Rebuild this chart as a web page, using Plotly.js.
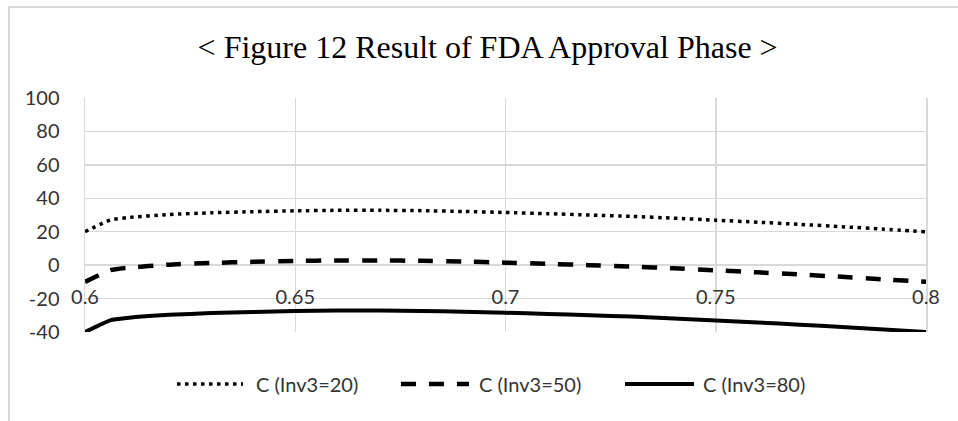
<!DOCTYPE html>
<html>
<head>
<meta charset="utf-8">
<script src="https://cdn.plot.ly/plotly-3.0.1.min.js"></script>
<style>
html,body{margin:0;padding:0;background:#fff;}
#chart{width:958px;height:421px;}
</style>
</head>
<body>
<div id="chart"></div>
<script>
// ---- data ----
var xValues = [0.6, 0.606, 0.61, 0.62, 0.63, 0.64, 0.65, 0.66, 0.67, 0.68, 0.69, 0.70, 0.71, 0.72, 0.73, 0.74, 0.75, 0.76, 0.77, 0.78, 0.79, 0.80];
var inv20 = [20, 27.0, 28.4, 30.3, 31.3, 32.0, 32.5, 32.8, 32.8, 32.6, 32.1, 31.5, 30.8, 30.0, 29.2, 28.1, 26.9, 25.7, 24.4, 23.0, 21.5, 20];
var inv50 = [-10, -3.0, -1.6, 0.3, 1.3, 2.0, 2.5, 2.8, 2.8, 2.6, 2.1, 1.5, 0.8, 0.0, -0.8, -1.9, -3.1, -4.3, -5.6, -7.0, -8.5, -10];
var inv80 = [-40, -33.0, -31.6, -29.7, -28.7, -28.0, -27.5, -27.2, -27.2, -27.4, -27.9, -28.5, -29.2, -30.0, -30.8, -31.9, -33.1, -34.3, -35.6, -37.0, -38.5, -40];
var seriesNames = ['C (Inv3=20)', 'C (Inv3=50)', 'C (Inv3=80)'];
var xTicks = [0.6, 0.65, 0.7, 0.75, 0.8];
var xTickText = ['0.6', '0.65', '0.7', '0.75', '0.8'];
var yTicks = [-40, -20, 0, 20, 40, 60, 80, 100];
var yTickText = ['-40', '-20', '0', '20', '40', '60', '80', '100'];
var chartTitle = '&lt; Figure 12 Result of FDA Approval Phase &gt;';

var gridColor = '#d9d9d9';
var textColor = '#333333';
var styles = [
  {color: '#000', width: 3.5, dash: '3.5px,4.5px'},
  {color: '#000', width: 4.5, dash: '15px,13px'},
  {color: '#000', width: 4, dash: 'solid'}
];
var seriesY = [inv20, inv50, inv80];

var traces = seriesY.map(function (ys, i) {
  return {x: xValues, y: ys, name: seriesNames[i], mode: 'lines', showlegend: false,
          line: {color: styles[i].color, width: styles[i].width, dash: styles[i].dash,
                 shape: 'spline', smoothing: 0.5}};
});

// custom legend (Excel-style long sample lines)
var legendLine = [[0.1094, 0.1879], [0.3757, 0.4566], [0.6421, 0.7241]];
var legendTextX = [0.2010, 0.4661, 0.7325];
var legendY = -0.222;
var shapes = [
  {type: 'rect', xref: 'paper', yref: 'paper', x0: -0.0904, x1: 1.05, y0: -0.45, y1: 1.389,
   line: {color: gridColor, width: 2}, fillcolor: 'rgba(0,0,0,0)', layer: 'below'}
];
var annotations = [];
for (var i = 0; i < 3; i++) {
  shapes.push({type: 'line', xref: 'paper', yref: 'paper',
    x0: legendLine[i][0], x1: legendLine[i][1], y0: legendY, y1: legendY,
    line: {color: styles[i].color, width: styles[i].width, dash: styles[i].dash}});
  annotations.push({xref: 'paper', yref: 'paper', x: legendTextX[i], y: legendY,
    xanchor: 'left', yanchor: 'middle', showarrow: false, text: seriesNames[i],
    font: {family: 'Lato, sans-serif', size: 20, color: textColor}});
}

var layout = {
  width: 958, height: 421,
  margin: {l: 85, r: 32, t: 98, b: 89},
  paper_bgcolor: '#fff', plot_bgcolor: '#fff',
  showlegend: false,
  title: {text: chartTitle, x: 0.509, xanchor: 'center', y: 0.888, yanchor: 'middle',
          font: {family: '"Liberation Serif", "Times New Roman", serif', size: 32, color: '#000'}},
  font: {family: 'Lato, "Open Sans", sans-serif', size: 20, color: textColor},
  xaxis: {
    range: [0.6, 0.8], tickvals: xTicks, ticktext: xTickText,
    anchor: 'free', position: 0.2857, showline: false, zeroline: false,
    showgrid: true, gridcolor: gridColor, gridwidth: 1.5,
    ticks: '', ticklabelstandoff: 18,
    tickfont: {family: 'Lato, sans-serif', size: 20, color: textColor}
  },
  yaxis: {
    range: [-40, 100], tickvals: yTicks, ticktext: yTickText,
    showgrid: true, gridcolor: gridColor, gridwidth: 1.5,
    zeroline: true, zerolinecolor: gridColor, zerolinewidth: 1.5,
    showline: true, mirror: true, linecolor: gridColor, linewidth: 1.5,
    ticks: '', ticklabelstandoff: 20,
    tickfont: {family: 'Lato, sans-serif', size: 20, color: textColor}
  },
  shapes: shapes,
  annotations: annotations
};

Plotly.newPlot('chart', traces, layout, {displayModeBar: false, staticPlot: true});
</script>
</body>
</html>
